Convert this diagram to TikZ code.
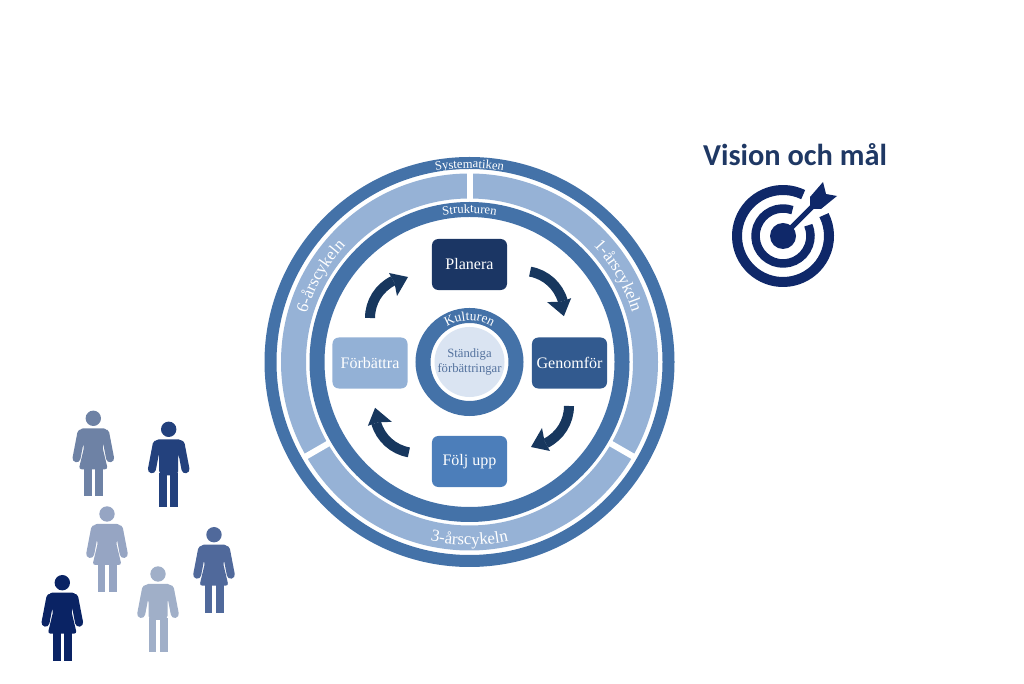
\documentclass[tikz,border=0pt]{standalone}
\usepackage{fontspec}
\setmainfont{Liberation Serif}
\newfontfamily\visionfont{Carlito}
\usetikzlibrary{decorations.text}
\definecolor{ringblue}{RGB}{68, 114, 168}
\definecolor{bandblue}{RGB}{150, 178, 214}
\definecolor{paleblue}{RGB}{218, 228, 242}
\definecolor{planblue}{RGB}{27, 54, 100}
\definecolor{genblue}{RGB}{50, 90, 143}
\definecolor{foljblue}{RGB}{76, 126, 186}
\definecolor{forbblue}{RGB}{147, 177, 214}
\definecolor{arrowblue}{RGB}{23, 55, 94}
\definecolor{targetblue}{RGB}{15, 40, 105}
\definecolor{visionblue}{RGB}{31, 56, 100}
\definecolor{textblue}{RGB}{84, 114, 158}
\definecolor{persona}{RGB}{110, 130, 165}
\definecolor{personb}{RGB}{35, 65, 125}
\definecolor{personc}{RGB}{150, 165, 195}
\definecolor{persond}{RGB}{80, 105, 155}
\definecolor{persone}{RGB}{160, 175, 200}
\definecolor{personf}{RGB}{10, 35, 100}
\def\px{0.025cm}
\newcommand{\ringfont}{\color{white}\fontsize{9pt}{11pt}\selectfont}
\newcommand{\kulturfont}{\color{white}\fontsize{9.5pt}{11pt}\selectfont}
\newcommand{\bandfont}{\color{white}\fontsize{12pt}{14pt}\selectfont}
\newcommand{\cyclearrow}[1]{%
  \begin{scope}[rotate=#1]
    \draw[arrowblue, line width=10*\px] (-99.5,44) arc[start angle=180, end angle=116, radius=41.5];
    \fill[arrowblue] (-61.5,85) -- (-80.5,89) -- (-75,79) -- (-72.5,66) -- cycle;
  \end{scope}
}
\tikzset{
  legs/.pic={
    \fill (-9.5,-44) rectangle (-1.7,-78);
    \fill (1.7,-44) rectangle (9.5,-78);
    \draw[line width=8*\px, line cap=round] (-12,-15) -- (-16.8,-40);
    \draw[line width=8*\px, line cap=round] (12,-15) -- (16.8,-40);
    \fill (0,0) circle (7.7);
  },
  man/.pic={
    \pic {legs};
    \fill[rounded corners=3] (-14,-10) -- (14,-10) -- (14,-20) -- (9.5,-24) -- (9.5,-46) -- (-9.5,-46) -- (-9.5,-24) -- (-14,-20) -- cycle;
  },
  woman/.pic={
    \pic {legs};
    \fill[rounded corners=2] (-13,-10) -- (13,-10) -- (14,-20) -- (9,-28) -- (14.5,-51) -- (-14.5,-51) -- (-9,-28) -- (-14,-20) -- cycle;
  }
}
\begin{document}
\begin{tikzpicture}[
  x=\px, y=\px,
  cycbox/.style={rounded corners=4.5pt, minimum width=1.875cm, minimum height=1.275cm, inner sep=0pt, align=center, text=white, font=\fontsize{11.4pt}{13pt}\selectfont},
  ringline/.style={draw=ringblue}
]
  \useasboundingbox (0,0) rectangle (1024,683);
  \begin{scope}[shift={(469.5,321)}]
    \draw[ringline, line width=12*\px] (0,0) circle (199);
    \draw[bandblue, line width=25*\px] (0,0) circle (176);
    \foreach \a in {90,-30,-150} {
      \draw[white, line width=6*\px] (\a:161) -- (\a:190.5);
    }
    \draw[ringline, line width=15*\px] (0,0) circle (152.5);
    \draw[ringline, line width=15*\px] (0,0) circle (46.5);
    \node[circle, fill=paleblue, minimum size=1.75cm, inner sep=0pt, align=center, text=textblue, font=\fontsize{9pt}{10pt}\selectfont] (kultur) at (0,0) {Ständiga\\förbättringar};

    \node[cycbox, fill=planblue] (planera) at (0,97.5) {Planera};
    \node[cycbox, fill=genblue] (genomfor) at (100,-1) {Genomför};
    \node[cycbox, fill=foljblue] (foljupp) at (0,-99.5) {Följ upp};
    \node[cycbox, fill=forbblue] (forbattra) at (-99.5,-1) {Förbättra};

    \cyclearrow{0}
    \cyclearrow{-100}
    \cyclearrow{180}
    \cyclearrow{80}

    \path[decorate, decoration={text along path, text align=center, text={|\ringfont|Systematiken}}] (115:194) arc[start angle=115, end angle=65, radius=194];
    \path[decorate, decoration={text along path, text align=center, text={|\ringfont|Strukturen}}] (115:149) arc[start angle=115, end angle=65, radius=149];
    \path[decorate, decoration={text along path, text align=center, text={|\kulturfont|Kulturen}}] (150:41.5) arc[start angle=150, end angle=30, radius=41.5];
    \path[decorate, decoration={text along path, text align=center, text={|\bandfont|6-årscykeln}}] (175:170) arc[start angle=175, end angle=125, radius=170];
    \path[decorate, decoration={text along path, text align=center, text={|\bandfont|1-årscykeln}}] (55:170) arc[start angle=55, end angle=5, radius=170];
    \path[decorate, decoration={text along path, text align=center, text={|\bandfont|3-årscykeln}}] (-115:183) arc[start angle=-115, end angle=-65, radius=183];
  \end{scope}

  \node[text=visionblue, font=\visionfont\bfseries\fontsize{21.6pt}{26pt}\selectfont] (vision) at (795,528) {Vision och mål};
  \begin{scope}[shift={(783,447)}, targetblue]
    \draw[line width=10*\px] (64:46) arc[start angle=64, end angle=387, radius=46];
    \draw[line width=8.5*\px] (70:27.5) arc[start angle=70, end angle=383, radius=27.5];
    \fill (0,0) circle (13);
    \draw[line width=5*\px] (0,0) -- (30,30);
    \fill (40,54) -- (43,42) -- (54,40) -- (38,27) -- (27,27) -- (27,39) -- cycle;
  \end{scope}

  \pic[color=persona] at (93.3,264.7) {woman};
  \pic[color=personb] at (168.7,253.7) {man};
  \pic[color=personc] at (107,169) {woman};
  \pic[color=persond] at (214,148.3) {woman};
  \pic[color=persone] at (158,109) {man};
  \pic[color=personf] at (62.3,100.3) {woman};
\end{tikzpicture}
\end{document}
